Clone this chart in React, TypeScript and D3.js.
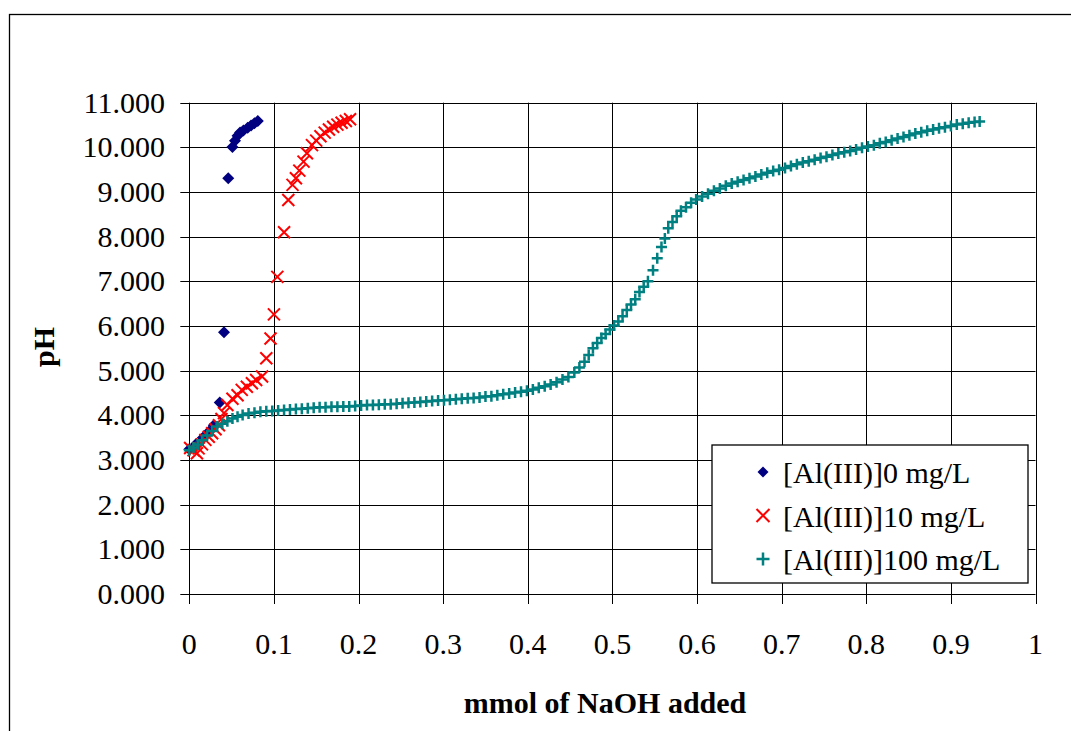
import React from "react";
import * as d3 from "d3";

const xTicks = [0, 0.1, 0.2, 0.3, 0.4, 0.5, 0.6, 0.7, 0.8, 0.9, 1];
const xTickLabels = ["0", "0.1", "0.2", "0.3", "0.4", "0.5", "0.6", "0.7", "0.8", "0.9", "1"];
const yTicks = [0, 1, 2, 3, 4, 5, 6, 7, 8, 9, 10, 11];
const yTickLabels = ["0.000", "1.000", "2.000", "3.000", "4.000", "5.000", "6.000", "7.000", "8.000", "9.000", "10.000", "11.000"];

const seriesNames = ["[Al(III)]0 mg/L", "[Al(III)]10 mg/L", "[Al(III)]100 mg/L"];

const al0X = [0.0, 0.008, 0.016, 0.023, 0.029, 0.036, 0.041, 0.046, 0.051, 0.054, 0.057, 0.06, 0.064, 0.069, 0.073, 0.077, 0.081];
const al0Y = [3.24, 3.36, 3.5, 3.63, 3.78, 4.29, 5.86, 9.31, 10.01, 10.15, 10.26, 10.33, 10.38, 10.44, 10.49, 10.54, 10.59];

const al10X = [0.001, 0.005, 0.009, 0.011, 0.015, 0.019, 0.023, 0.027, 0.031, 0.035, 0.038, 0.041, 0.045, 0.051, 0.057, 0.062, 0.068, 0.074, 0.079, 0.086, 0.091, 0.096, 0.1, 0.104, 0.112, 0.117, 0.122, 0.126, 0.13, 0.135, 0.139, 0.145, 0.15, 0.155, 0.16, 0.165, 0.17, 0.175, 0.18, 0.185, 0.19];
const al10Y = [3.27, 3.22, 3.15, 3.26, 3.35, 3.45, 3.52, 3.6, 3.69, 3.78, 3.92, 4.05, 4.23, 4.37, 4.45, 4.57, 4.64, 4.72, 4.79, 4.87, 5.28, 5.72, 6.26, 7.1, 8.1, 8.82, 9.16, 9.31, 9.48, 9.68, 9.87, 10.05, 10.15, 10.25, 10.33, 10.4, 10.46, 10.51, 10.55, 10.59, 10.63];

const al100X = [
  0.0, 0.005, 0.01, 0.015, 0.021, 0.027, 0.033, 0.039, 0.045, 0.051, 0.057, 0.063, 0.07, 0.077, 0.084, 0.091, 0.098,
  0.105, 0.112, 0.119, 0.126, 0.133, 0.14, 0.147, 0.154, 0.161, 0.168, 0.175, 0.182, 0.189, 0.196, 0.203, 0.21,
  0.217, 0.224, 0.231, 0.238, 0.245, 0.252, 0.259, 0.266, 0.273, 0.28, 0.287, 0.294, 0.301, 0.308, 0.315, 0.322,
  0.329, 0.336, 0.343, 0.35, 0.357, 0.364, 0.371, 0.378, 0.385, 0.392, 0.399, 0.406, 0.413, 0.42, 0.427, 0.434,
  0.441, 0.448, 0.455, 0.461, 0.467, 0.472, 0.477, 0.482, 0.487, 0.492, 0.497, 0.502, 0.507, 0.512, 0.517, 0.522,
  0.527, 0.532, 0.537, 0.542, 0.548, 0.553, 0.558, 0.562, 0.566, 0.571, 0.576, 0.581, 0.587, 0.593, 0.599, 0.606,
  0.613, 0.62, 0.627, 0.634, 0.641, 0.648, 0.655, 0.662, 0.669, 0.676, 0.683, 0.69, 0.697, 0.704, 0.711, 0.718,
  0.725, 0.732, 0.739, 0.746, 0.753, 0.76, 0.767, 0.774, 0.781, 0.788, 0.795, 0.802, 0.809, 0.816, 0.823, 0.83,
  0.837, 0.844, 0.851, 0.858, 0.865, 0.872, 0.879, 0.886, 0.893, 0.9, 0.907, 0.914, 0.921, 0.928, 0.934
];
const al100Y = [
  3.22, 3.28, 3.35, 3.44, 3.55, 3.65, 3.75, 3.81, 3.87, 3.93, 3.97, 4.01, 4.04, 4.06, 4.08, 4.09, 4.1,
  4.11, 4.12, 4.13, 4.14, 4.15, 4.16, 4.17, 4.18, 4.18, 4.19, 4.19, 4.2, 4.2, 4.21, 4.22, 4.23,
  4.23, 4.24, 4.25, 4.25, 4.26, 4.27, 4.28, 4.29, 4.3, 4.31, 4.32, 4.33, 4.34, 4.35, 4.36, 4.37,
  4.38, 4.39, 4.4, 4.42, 4.43, 4.45, 4.47, 4.49, 4.51, 4.53, 4.55, 4.58, 4.62, 4.65, 4.69, 4.74,
  4.8, 4.86, 4.96, 5.07, 5.2, 5.35, 5.5, 5.62, 5.73, 5.82, 5.92, 6.01, 6.1, 6.22, 6.36, 6.48,
  6.6, 6.76, 6.88, 7.0, 7.25, 7.52, 7.77, 7.96, 8.19, 8.33, 8.46, 8.58, 8.66, 8.76, 8.83, 8.9,
  8.96, 9.03, 9.08, 9.14, 9.19, 9.23, 9.27, 9.31, 9.35, 9.39, 9.43, 9.47, 9.5, 9.54, 9.58, 9.62,
  9.66, 9.69, 9.72, 9.76, 9.79, 9.83, 9.86, 9.89, 9.92, 9.95, 9.99, 10.02, 10.05, 10.09, 10.12, 10.16,
  10.2, 10.23, 10.27, 10.31, 10.34, 10.37, 10.4, 10.43, 10.45, 10.48, 10.51, 10.53, 10.55, 10.57, 10.58
];

const NAVY = "#000080";
const RED = "#FF0000";
const TEAL = "#008080";
const FONT = "'Liberation Serif', 'Times New Roman', serif";

const W = 1071;
const H = 731;
const plotLeft = 189.3;
const plotRight = 1035.5;
const plotTop = 102.7;
const plotBottom = 594;

function Diamond({ x, y, s = 6 }: { x: number; y: number; s?: number }) {
  return <path d={`M${x},${y - s}L${x + s},${y}L${x},${y + s}L${x - s},${y}Z`} fill={NAVY} />;
}
function Cross({ x, y, s = 6 }: { x: number; y: number; s?: number }) {
  return (
    <path d={`M${x - s},${y - s}L${x + s},${y + s}M${x - s},${y + s}L${x + s},${y - s}`} stroke={RED} strokeWidth={2} fill="none" />
  );
}
function Plus({ x, y, s = 5.5 }: { x: number; y: number; s?: number }) {
  return <path d={`M${x - s},${y}L${x + s},${y}M${x},${y - s}L${x},${y + s}`} stroke={TEAL} strokeWidth={2.5} fill="none" />;
}

export default function App() {
  const x = d3.scaleLinear().domain([0, 1]).range([plotLeft, plotRight]);
  const y = d3.scaleLinear().domain([0, 11]).range([plotBottom, plotTop]);

  const legendX = 712;
  const legendY = 445;
  const legendW = 316;
  const legendH = 138;
  const rowYs = [472, 515.5, 559];

  return (
    <div style={{ position: "fixed", left: 0, top: 0, width: W, height: H, background: "#fff" }}>
      <svg width={W} height={H} style={{ display: "block" }}>
        <rect x={0} y={0} width={W} height={H} fill="#fff" />
        {/* outer chart border */}
        <rect x={9.5} y={14.5} width={W + 20} height={H + 20} fill="none" stroke="#000" strokeWidth={1.3} />

        {/* gridlines */}
        {yTicks.map((t) => (
          <line key={"gy" + t} x1={plotLeft} x2={plotRight} y1={Math.round(y(t)) + 0.5} y2={Math.round(y(t)) + 0.5} stroke="#000" strokeWidth={1} />
        ))}
        {xTicks.map((t) => (
          <line key={"gx" + t} x1={Math.round(x(t)) + 0.5} x2={Math.round(x(t)) + 0.5} y1={plotTop} y2={plotBottom + 10} stroke="#000" strokeWidth={1} />
        ))}
        {/* y ticks */}
        {yTicks.map((t) => (
          <line key={"ty" + t} x1={plotLeft - 9} x2={plotLeft} y1={Math.round(y(t)) + 0.5} y2={Math.round(y(t)) + 0.5} stroke="#000" strokeWidth={1} />
        ))}

        {/* tick labels */}
        {yTicks.map((t, i) => (
          <text key={"ly" + t} x={165} y={y(t) + 10} textAnchor="end" fontFamily={FONT} fontSize={30} fill="#000">
            {yTickLabels[i]}
          </text>
        ))}
        {xTicks.map((t, i) => (
          <text key={"lx" + t} x={x(t)} y={654} textAnchor="middle" fontFamily={FONT} fontSize={30} fill="#000">
            {xTickLabels[i]}
          </text>
        ))}

        {/* axis titles */}
        <text x={605} y={713} textAnchor="middle" fontFamily={FONT} fontSize={30} fontWeight="bold" fill="#000">
          mmol of NaOH added
        </text>
        <text transform={`translate(54,347) rotate(-90)`} textAnchor="middle" fontFamily={FONT} fontSize={30} fontWeight="bold" fill="#000">
          pH
        </text>

        {/* series, drawn in Excel series order */}
        <g>
          {al0X.map((v, i) => (
            <Diamond key={"d" + i} x={x(v)} y={y(al0Y[i])} />
          ))}
        </g>
        <g>
          {al10X.map((v, i) => (
            <Cross key={"c" + i} x={x(v)} y={y(al10Y[i])} />
          ))}
        </g>
        <g>
          {al100X.map((v, i) => (
            <Plus key={"p" + i} x={x(v)} y={y(al100Y[i])} />
          ))}
        </g>

        {/* legend */}
        <rect x={legendX} y={legendY} width={legendW} height={legendH} fill="#fff" stroke="#000" strokeWidth={1.3} />
        <Diamond x={763} y={rowYs[0]} s={5.5} />
        <Cross x={763} y={rowYs[1]} s={6.5} />
        <Plus x={763} y={rowYs[2]} s={6.5} />
        {seriesNames.map((n, i) => (
          <text key={"lg" + i} x={783} y={rowYs[i] + 11} fontFamily={FONT} fontSize={30} fill="#000">
            {n}
          </text>
        ))}
      </svg>
    </div>
  );
}
